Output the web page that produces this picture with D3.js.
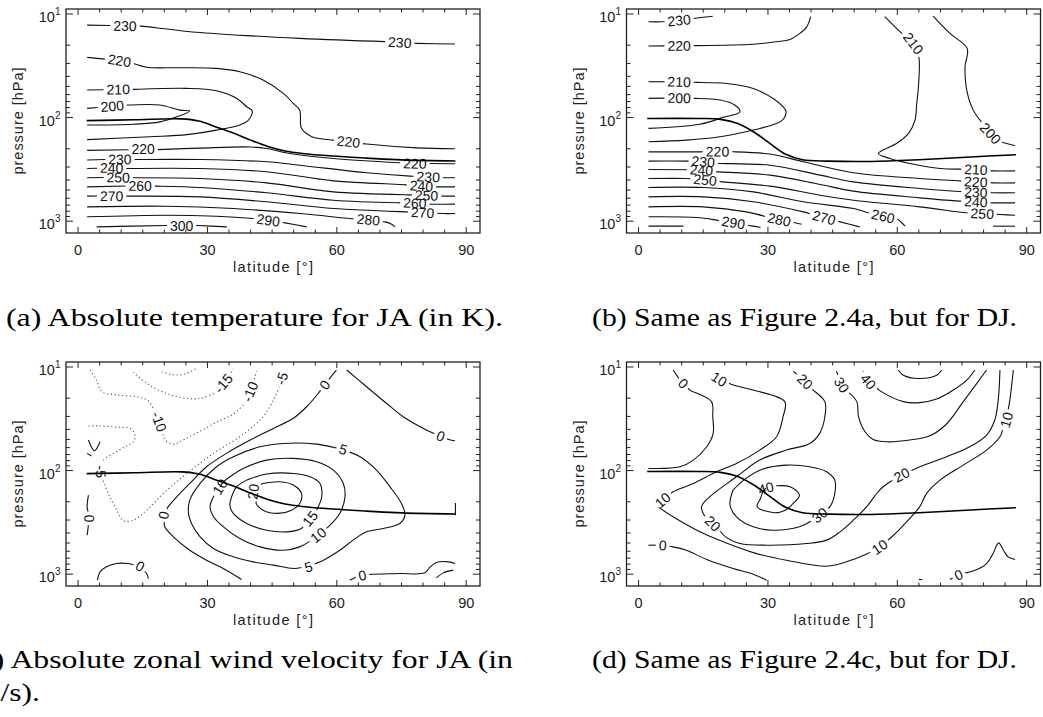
<!DOCTYPE html>
<meta charset="utf-8">
<style>
body { margin: 0; background: #fff; }
svg { display: block; overflow: hidden; }
.frame { fill: none; stroke: #222; stroke-width: 1.3px; }
.tick { stroke: #222; stroke-width: 1px; }
.axis-text { font-family: "Liberation Sans", Arial, sans-serif; font-size: 14.5px; fill: #222; }
.clabel { font-family: "Liberation Sans", Arial, sans-serif; font-size: 14px; fill: #111; }
.contour { fill: none; stroke: #111; stroke-width: 1.1px; }
.dotted { stroke: #555; stroke-dasharray: 1.2 2.6; }
.tropo { fill: none; stroke: #000; stroke-width: 1.6px; }
.caption { font-family: "Liberation Serif", "Times New Roman", serif; font-size: 25px; fill: #000; }
</style>
<svg width="1043" height="717"></svg>
<script src="https://cdn.jsdelivr.net/npm/d3@7"></script>
<script>

// axis ticks
var latTicks = [0, 30, 60, 90];
var pressureDecades = [10, 100, 1000];

// captions
var captionA = "(a) Absolute temperature for JA (in K).";
var captionB = "(b) Same as Figure 2.4a, but for DJ.";
var captionC = ["(c) Absolute zonal wind velocity for JA (in", "m/s)."];
var captionD = "(d) Same as Figure 2.4c, but for DJ.";

// tropopause, [latitude, pressure hPa]
var tropoJA = [[2,107],[13,105],[24,103],[28,108],[32,123],[36,141],[40,165],[44,190],[48,210],[52,222],[59,235],[67,246],[75,256],[87.5,262]];
var tropoDJ = [[2,102],[14,102],[19,104],[23,114],[27,140],[30.5,178],[34,225],[38,255],[44,263],[54,265],[65,255],[77,240],[87.5,228]];
var tropoEndJA = [[87.5,205],[87.5,270]];

// temperature JA (K): v = level, pts = [lat, p], at = label spots
var tempJA = [
  {v: 230, pts: [[2.1,12.8],[14.7,13.1],[28.3,15.1],[51.4,17.2],[71.5,18.5],[78.5,19.2],[87.4,19.5]], at: [[10.9,12.8],[74.6,18.6]]},
  {v: 220, pts: [[2.1,26.2],[6.6,27.4],[9.6,28.2],[13.2,30.4],[15.9,32.7],[23.6,33],[32.1,33.5],[37.5,36.1],[42.9,43.4],[47.6,58.4],[49.9,73],[51.4,84.7],[51.8,127],[54.2,153],[59.2,165],[62.7,171],[66.9,180],[78.5,196],[87.4,200]], at: [[9.6,28.2],[62.7,171]]},
  {v: 210, pts: [[2.1,54.2],[9.3,53.4],[12.8,53.4],[25.2,52.2],[32.1,55.1],[36.8,65.3],[39.1,78.5],[40.4,86.5],[39.5,106],[37.5,118],[32.1,132],[25.2,146],[16.7,153],[2.1,163]], at: [[9.3,53.4]]},
  {v: 200, pts: [[2.1,81.5],[7.9,77.4],[11.6,75.7],[19,75.7],[23.6,84.7],[25.9,86.5],[22.9,98.2],[19,110],[12.8,116],[2.1,118]], at: [[7.9,77.4]]},
  {v: 220, pts: [[2.1,207],[15.1,203],[18.4,204],[28.3,197],[39.9,192],[43.7,199],[49.1,222],[59.2,248],[74.6,273],[78.1,277],[87.4,279]], at: [[15.1,203],[78.1,277]]},
  {v: 230, pts: [[2.1,257],[9.7,252],[13.2,254],[28.3,254],[43.7,267],[51.4,288],[66.9,341],[77,367],[81.2,373],[84.7,381],[87.4,381]], at: [[9.7,252],[81.2,373]]},
  {v: 240, pts: [[2.1,310],[7.8,306],[10.9,310],[28.3,310],[43.7,333],[59.2,408],[74.6,442],[79.6,456],[83.1,466],[87.4,466]], at: [[7.8,306],[79.6,456]]},
  {v: 250, pts: [[2.1,381],[9.3,377],[12.8,381],[28.3,387],[43.7,427],[59.2,521],[77,557],[80.8,562],[84.7,573],[87.4,573]], at: [[9.3,377],[80.8,562]]},
  {v: 260, pts: [[2.1,466],[14.4,455],[18.2,459],[28.3,473],[43.7,532],[59.2,627],[74.6,665],[78.1,668],[81.6,685],[87.4,685]], at: [[14.4,455],[78.1,668]]},
  {v: 270, pts: [[2.1,573],[7.8,570],[11.3,573],[28.3,582],[43.7,650],[59.2,755],[76.2,813],[79.9,825],[84.7,844],[87.4,844]], at: [[7.8,570],[79.9,825]]},
  {v: 280, pts: [[2.1,728],[20.5,717],[36,755],[51.4,844],[63,942],[67.3,964],[71.2,1015],[72.7,1069],[73.5,1135]], at: [[67.3,964]]},
  {v: 290, pts: [[2.1,907],[20.5,875],[32.1,895],[40.6,942],[44.1,977],[48,1038],[53,1135]], at: [[44.1,977]]},
  {v: 300, pts: [[4.3,1135],[20.5,1100],[27.5,1100],[34.5,1135]], at: [[24,1100]]}
];

// temperature DJ (K)
var tempDJ = [
  {v: 230, pts: [[2.3,11.9],[5.3,11.9],[9.4,11.5],[13.1,11],[17.2,10.5]], at: [[9.4,11.5]]},
  {v: 220, pts: [[2.3,20.4],[9.4,20.2],[13.1,20.2],[26.6,19.6],[32,18.5],[35.1,17.6],[37.4,15.4],[39,13.3],[39.9,10.6]], at: [[9.4,20.2]]},
  {v: 210, pts: [[2.3,45.1],[9.4,45.1],[13.5,45.7],[20.4,46.8],[26.6,52.3],[31.2,65.3],[33.5,78.5],[34.2,87.9],[33.2,107],[26.6,132],[18.9,153],[11.1,165],[2.3,171]], at: [[9.4,45.1]]},
  {v: 200, pts: [[2.3,65.3],[9.4,64.5],[13.1,65.3],[18.9,67.7],[22.3,75.7],[23.5,87.9],[19.6,99.5],[14.2,116],[2.3,127]], at: [[9.4,64.5]]},
  {v: 210, pts: [[57.1,10.6],[60.6,14.8],[63.7,19.2],[64.9,24],[65.1,28.9],[64.9,50.4],[64.5,73],[64.1,106],[62.6,142],[59.8,178],[55.6,222],[58.3,248],[62.9,277],[69.9,310],[78.2,317],[82.2,327],[87.3,327]], at: [[63.7,19.2],[78.2,317]]},
  {v: 200, pts: [[68.3,10.5],[72.2,15.4],[76.2,21.5],[75.7,32.3],[76.1,54.2],[77.6,84.7],[79.5,110],[81.6,142],[83.8,171],[87.3,187]], at: [[81.6,142]]},
  {v: 220, pts: [[2.3,214],[14.2,214],[18.3,212],[21.9,214],[30.5,225],[38.2,267],[49.8,341],[65.2,387],[74.5,408],[78.2,417],[82.2,427],[87.3,427]], at: [[18.3,212],[78.2,417]]},
  {v: 230, pts: [[2.3,263],[11.1,263],[15,266],[18.9,277],[30.5,288],[42.1,359],[49.8,417],[65.2,483],[74.5,517],[78.2,525],[82.2,532],[87.3,532]], at: [[15,266],[78.2,525]]},
  {v: 240, pts: [[2.3,317],[14.6,320],[18.5,334],[30.5,359],[42.1,442],[49.8,513],[65.2,595],[73.7,637],[78.2,650],[82.2,665],[87.3,665]], at: [[14.6,320],[78.2,650]]},
  {v: 250, pts: [[2.3,387],[11.1,387],[15.4,398],[19.3,417],[30.5,459],[42.1,561],[49.8,627],[65.2,728],[75.3,825],[79.7,844],[83.8,863],[87.3,875]], at: [[15.4,398],[79.7,844]]},
  {v: 260, pts: [[2.3,473],[15,473],[26.6,521],[38.2,650],[49.8,755],[53.3,830],[56.7,895],[60.2,964],[61.8,1117]], at: [[56.7,895]]},
  {v: 270, pts: [[2.3,582],[15,582],[26.6,650],[38.2,813],[43,923],[46.7,1015],[51.3,1135]], at: [[43,923]]},
  {v: 280, pts: [[2.3,728],[15,728],[25,813],[29.7,907],[32.6,964],[35.9,1030],[37.8,1069]], at: [[32.6,964]]},
  {v: 290, pts: [[2.3,907],[13.5,922],[18.1,977],[22,1030],[26.2,1109],[28.3,1143]], at: [[22,1030]]},
  {v: 300, pts: [[2.3,1117],[10.4,1117]], at: []},
  {v: 260, pts: [[82.2,1117],[87.3,1117]], at: []}
];

// zonal wind JA (m/s)
var windJA = [
  {v: -20, pts: [[19.4,11.1],[22.1,11.9],[24.8,11.7],[27.5,10.3]], at: []},
  {v: -15, pts: [[12.8,11.2],[15.9,14.4],[20.5,18],[25.2,20.1],[28.3,20.1],[31.4,18],[33.7,14.4],[35.2,11.7],[36,10.5]], at: [[33.7,14.4]]},
  {v: -10, pts: [[2.8,10.7],[4.3,13.4],[5.5,17.3],[8.9,18.6],[13.6,19.4],[16.3,21.2],[17.6,26],[18.8,33.7],[19.4,42.2],[20.1,50],[22.1,55.5],[25.2,48.5],[29,40.1],[32.9,33],[36,28.5],[38.7,22.4],[39.9,17.3],[40.6,14.4],[41.4,11]], at: [[18.8,33.7],[39.9,17.3]]},
  {v: -5, pts: [[2.4,37.1],[5.1,37.1],[8.6,38],[12,39.2],[13.2,45.4],[12.8,52.7],[10.9,58.9],[8.2,68.2],[5.9,79.2],[5.3,102.6],[5.9,128.2],[7,166],[8.6,223],[10.5,305],[12.8,301],[15.9,241],[19.8,166],[25.2,106.5],[31.4,68.2],[37.5,47.1],[42.9,30.2],[45.3,20.8],[46.7,15.5],[47.2,12.9],[48,10.7]], at: [[5.3,102.6],[47.2,12.9]]},
  {v: 0, pts: [[59.9,10.7],[58,13.4],[57.2,14.9],[55.7,18],[53,24.2],[49.9,31.3],[45.3,39.2],[39.9,50.7],[34.4,68.2],[29.8,91.9],[25.9,133],[22.9,179],[20.9,223],[19.8,269],[20.1,349],[22.1,436],[25.9,587],[29.8,733],[34.4,914],[37.9,1126]], at: [[57.2,14.9],[19.8,269]]},
  {v: 0, pts: [[62.3,10.7],[66.9,15.5],[71.5,22.4],[75.4,30.2],[79.3,37.7],[82.4,43.7],[84.1,46.4],[85.9,50],[87.4,51.5]], at: [[84.1,46.4]]},
  {v: 0, pts: [[63,1143],[64.6,1061],[65.9,1023],[68.1,1000],[74.6,985],[80.4,971],[81.6,855],[83.1,771],[85.9,760],[87.4,789]], at: [[65.9,1023]]},
  {v: 0, pts: [[83.1,1085],[84.7,971],[87,914]], at: []},
  {v: 0, pts: [[4.5,1143],[5.1,949],[6.6,849],[8.9,789],[11.6,789],[14.4,837],[15.9,985],[16.3,1102]], at: [[14.4,837]]},
  {v: 0, pts: [[2.4,172.5],[2.1,223],[2.6,290],[2.1,420]], at: [[2.6,290]]},
  {v: 0, pts: [[2.4,50.7],[3.8,64.3],[5.1,52.7]], at: []},
  {v: 0, pts: [[2.1,68.2],[3.1,72.4]], at: []},
  {v: 5, pts: [[59.2,59.7],[61.5,62.4],[65.4,73.5],[69.2,98.9],[72.3,143],[75,208],[75.8,269],[74.6,324],[70.8,362],[66.9,390],[63.8,469],[60.7,587],[56.9,733],[53.4,849],[49.9,881],[45.3,818],[40.6,760],[36,680],[31.4,565],[28.3,436],[26.3,324],[25.6,259],[25.9,193],[28.3,133],[32.1,91.9],[36,73.5],[42.2,58.9],[47.6,54.7],[55.3,55.5],[59.2,59.7]], at: [[61.5,62.4],[53.4,849]]},
  {v: 10, pts: [[32.9,143],[31.4,179],[30.6,223],[31.4,279],[33.7,349],[37.5,452],[42.2,545],[47.6,587],[51.4,545],[54.2,469],[55.7,420],[58,349],[60.7,259],[61.9,179],[61.5,133],[59.2,98.9],[55.3,82.2],[49.9,76.3],[43.7,79.2],[38.3,95.3],[35.2,114.7],[33.7,128.2],[32.9,143]], at: [[32.9,143],[55.7,420]]},
  {v: 15, pts: [[39.1,123.6],[36.8,143],[35.6,179],[35.2,215],[36,259],[39.1,324],[43.7,376],[48.4,390],[51.8,362],[53.8,290],[55.3,241],[56.5,179],[56.1,133],[53.8,114.7],[49.9,106.5],[43.7,108],[39.1,123.6]], at: [[53.8,290]]},
  {v: 20, pts: [[42.9,133],[41.4,143],[40.6,160],[41.4,179],[41.3,208],[42.9,241],[46.4,259],[49.5,241],[51.4,208],[51.8,166],[49.9,138],[46.8,128.2],[42.9,133]], at: [[40.6,160]]}
];

// zonal wind DJ (m/s)
var windDJ = [
  {v: 0, pts: [[8,10.7],[9.6,13.4],[10.4,14.4],[11.9,16.7],[16.9,21.6],[17.2,30.2],[17.3,43.7],[15.8,58.9],[12.7,79.2],[9.6,91.9],[2.3,95.3]], at: [[10.4,14.4]]},
  {v: 0, pts: [[2.3,525],[5.6,525],[8,545],[11.1,587],[15.8,722],[21.9,881],[26.6,1000],[29.7,1143]], at: [[5.6,525]]},
  {v: 0, pts: [[72.2,1126],[74.5,1000],[77.6,932],[80.7,789],[82.2,631],[83.5,498],[84.6,587],[85.7,680],[87.3,722]], at: [[74.2,1010]]},
  {v: 0, pts: [[65,1126],[65.8,1126]], at: []},
  {v: 10, pts: [[16.9,11.3],[18.7,13.1],[21.9,14.9],[26.6,16.7],[33.9,21.6],[33.5,30.2],[32,47.1],[28.1,63.4],[22.7,85.4],[18.1,102.6],[12.7,133],[8,160],[5.6,193],[4.2,220],[8,279],[13.5,376],[18.9,474],[26.6,619],[34.3,733],[43.6,837],[48.2,760],[52.9,640],[55.9,545],[58.3,452],[61.4,337],[65.2,223],[66.8,166],[69.9,123.6],[75.3,88.5],[80.7,63.4],[83.8,47.1],[85.3,32.5],[86.1,20.8],[86.9,10.7]], at: [[18.7,13.1],[5.6,193],[55.9,545],[85.3,32.5]]},
  {v: 20, pts: [[35.9,11],[38.6,13.8],[40.5,16.7],[43.2,21.6],[43.2,30.2],[42,43.7],[39.7,54.7],[34.3,63.4],[28.1,79.2],[22.7,114.7],[16.5,179],[14.6,223],[15.4,279],[17.2,324],[20.4,444],[23.5,506],[29.7,525],[38.9,506],[43.6,469],[46.7,390],[49.8,301],[52.9,223],[55.9,154],[58.3,128.2],[61,110],[65.2,91.9],[71.4,73.5],[76.8,58.9],[80.7,45.4],[82.6,32.5],[83.4,20.8],[83.8,10.7]], at: [[38.6,13.8],[17.2,324],[61,110]]},
  {v: 30, pts: [[45.9,11],[47.1,14.9],[50.6,21.6],[51,30.2],[52.5,42.2],[54.4,50],[57.5,52.7],[62.9,50.7],[67.6,46.1],[71.4,35.5],[75.3,21.6],[80.7,10.7]], at: [[47.1,14.9]]},
  {v: 40, pts: [[52.1,11],[53.3,13.8],[56.3,17.3],[61.4,21.6],[65.2,22.1],[69.1,20.4],[73,16.7],[76.1,13.4],[78,10.7]], at: [[53.3,13.8]]},
  {v: 50, pts: [[60.2,10.7],[61.4,12],[64.9,12.9],[69.1,12],[70.3,10.7]], at: []},
  {v: 30, pts: [[21.9,154],[21.2,215],[22.7,279],[26.6,349],[31.2,376],[37.3,349],[40.5,301],[42,269],[44.4,223],[45.5,166],[45.5,123.6],[43.6,102.6],[39.7,91.9],[34.3,88.5],[28.7,97],[24.9,119],[21.9,154]], at: [[42,269]]},
  {v: 40, pts: [[29.5,148],[31.6,140],[35.1,143],[37.3,172],[35.5,215],[34.3,237],[31.6,255],[27.5,223],[28.3,185],[28.9,157],[29.5,148]], at: [[29.5,148]]}
];

var svg = d3.select("svg");
var x = d3.scaleLinear().domain([-2.8, 93.2]).range([66, 480]);
var y = d3.scaleLog().domain([8.95, 1300]).range([9, 233]);
var line = d3.line().curve(d3.curveCatmullRom.alpha(0.5));
function pt(d) { return [x(d[0]), y(d[1])]; }

var panels = [
  {dx: 0, dy: 0, contours: tempJA, tropo: tropoJA},
  {dx: 560.5, dy: 0, contours: tempDJ, tropo: tropoDJ},
  {dx: 0, dy: 353, contours: windJA, tropo: tropoJA, end: tropoEndJA},
  {dx: 560.5, dy: 353, contours: windDJ, tropo: tropoDJ}
];

panels.forEach(function(p) {
  var g = svg.append("g").attr("transform", "translate(" + p.dx + "," + p.dy + ")");
  p.contours.forEach(function(c) { drawContour(g, c); });
  g.append("path").attr("class", "tropo").attr("d", line(p.tropo.map(pt)));
  if (p.end) g.append("path").attr("class", "contour").attr("d", d3.line()(p.end.map(pt)));
  drawAxes(g);
});

function drawAxes(g) {
  var x0 = x.range()[0], x1 = x.range()[1], y0 = y.range()[0], y1 = y.range()[1];
  g.append("rect").attr("class", "frame")
    .attr("x", x0).attr("y", y0).attr("width", x1 - x0).attr("height", y1 - y0);

  d3.range(0, 91, 5).forEach(function(v) {
    var len = latTicks.indexOf(v) >= 0 ? 6 : 3.5;
    g.append("line").attr("class", "tick").attr("x1", x(v)).attr("x2", x(v)).attr("y1", y1).attr("y2", y1 - len);
    g.append("line").attr("class", "tick").attr("x1", x(v)).attr("x2", x(v)).attr("y1", y0).attr("y2", y0 + len);
  });
  latTicks.forEach(function(v) {
    g.append("text").attr("class", "axis-text").attr("x", x(v)).attr("y", 255)
      .attr("text-anchor", "middle").text(v);
  });

  y.ticks().filter(function(v) { return v >= 10 && v <= 1000; }).forEach(function(v) {
    var lg = Math.log10(v), major = Math.abs(lg - Math.round(lg)) < 1e-9;
    var len = major ? 7 : 4;
    g.append("line").attr("class", "tick").attr("x1", x0).attr("x2", x0 + len).attr("y1", y(v)).attr("y2", y(v));
    g.append("line").attr("class", "tick").attr("x1", x1).attr("x2", x1 - len).attr("y1", y(v)).attr("y2", y(v));
  });
  pressureDecades.forEach(function(v) {
    var t = g.append("text").attr("class", "axis-text").attr("x", 60.5).attr("y", y(v) + 8)
      .attr("text-anchor", "end");
    t.append("tspan").text("10");
    t.append("tspan").attr("dy", -7).style("font-size", "10px").text(Math.round(Math.log10(v)));
  });

  g.append("text").attr("class", "axis-text").attr("x", (x0 + x1) / 2).attr("y", 272)
    .attr("text-anchor", "middle").attr("textLength", 80).attr("lengthAdjust", "spacing")
    .text("latitude [°]");
  g.append("text").attr("class", "axis-text")
    .attr("transform", "translate(23," + (y0 + y1) / 2 + ") rotate(-90)")
    .attr("text-anchor", "middle").attr("textLength", 107).attr("lengthAdjust", "spacing")
    .text("pressure [hPa]");
}

function drawContour(g, c) {
  var P = c.pts.map(pt);
  var cum = [0];
  for (var i = 1; i < P.length; i++) cum.push(cum[i - 1] + Math.hypot(P[i][0] - P[i - 1][0], P[i][1] - P[i - 1][1]));
  var total = cum[cum.length - 1];

  function at(s) {
    s = Math.max(0, Math.min(total, s));
    var i = 1;
    while (i < P.length - 1 && cum[i] < s) i++;
    var seg = (cum[i] - cum[i - 1]) || 1, t = (s - cum[i - 1]) / seg;
    return [P[i - 1][0] + t * (P[i][0] - P[i - 1][0]), P[i - 1][1] + t * (P[i][1] - P[i - 1][1])];
  }

  var gaps = [];
  c.at.forEach(function(a) {
    var L = pt(a), best = null;
    for (var i = 1; i < P.length; i++) {
      var ax = P[i - 1][0], ay = P[i - 1][1], dx = P[i][0] - ax, dy = P[i][1] - ay;
      var l2 = dx * dx + dy * dy || 1;
      var t = Math.max(0, Math.min(1, ((L[0] - ax) * dx + (L[1] - ay) * dy) / l2));
      var d = Math.hypot(L[0] - (ax + t * dx), L[1] - (ay + t * dy));
      if (!best || d < best.d) best = {d: d, s: cum[i - 1] + t * Math.sqrt(l2)};
    }
    var txt = g.append("text").attr("class", "clabel").attr("text-anchor", "middle")
      .attr("dy", "0.36em").text(c.v);
    var w = txt.node().getComputedTextLength();
    var A = at(best.s - w / 2), B = at(best.s + w / 2), M = at(best.s);
    var ang = Math.atan2(B[1] - A[1], B[0] - A[0]) * 180 / Math.PI;
    if (ang > 90) ang -= 180;
    if (ang < -90) ang += 180;
    txt.attr("transform", "translate(" + M + ") rotate(" + ang + ")");
    gaps.push([best.s - w / 2 - 3, best.s + w / 2 + 3]);
  });

  gaps.sort(function(a, b) { return a[0] - b[0]; });
  var pieces = [], start = 0;
  gaps.forEach(function(gp) {
    if (gp[0] > start) pieces.push([start, gp[0]]);
    start = Math.max(start, gp[1]);
  });
  if (start < total) pieces.push([start, total]);

  pieces.forEach(function(pc) {
    var pts = [at(pc[0])];
    for (var i = 0; i < P.length; i++) if (cum[i] > pc[0] && cum[i] < pc[1]) pts.push(P[i]);
    pts.push(at(pc[1]));
    g.append("path").attr("class", c.v < 0 ? "contour dotted" : "contour").attr("d", line(pts));
  });
}

// captions (the (c) caption is cut at the left edge, as in the original)
svg.append("text").attr("class", "caption").attr("x", 6).attr("y", 326)
  .attr("textLength", 497).attr("lengthAdjust", "spacingAndGlyphs").text(captionA);
svg.append("text").attr("class", "caption").attr("x", 592).attr("y", 326)
  .attr("textLength", 425).attr("lengthAdjust", "spacingAndGlyphs").text(captionB);
svg.append("text").attr("class", "caption").attr("x", -31).attr("y", 668)
  .attr("textLength", 544).attr("lengthAdjust", "spacingAndGlyphs").text(captionC[0]);
svg.append("text").attr("class", "caption").attr("x", -24).attr("y", 701)
  .attr("textLength", 64).attr("lengthAdjust", "spacingAndGlyphs").text(captionC[1]);
svg.append("text").attr("class", "caption").attr("x", 592).attr("y", 668)
  .attr("textLength", 425).attr("lengthAdjust", "spacingAndGlyphs").text(captionD);

</script>
